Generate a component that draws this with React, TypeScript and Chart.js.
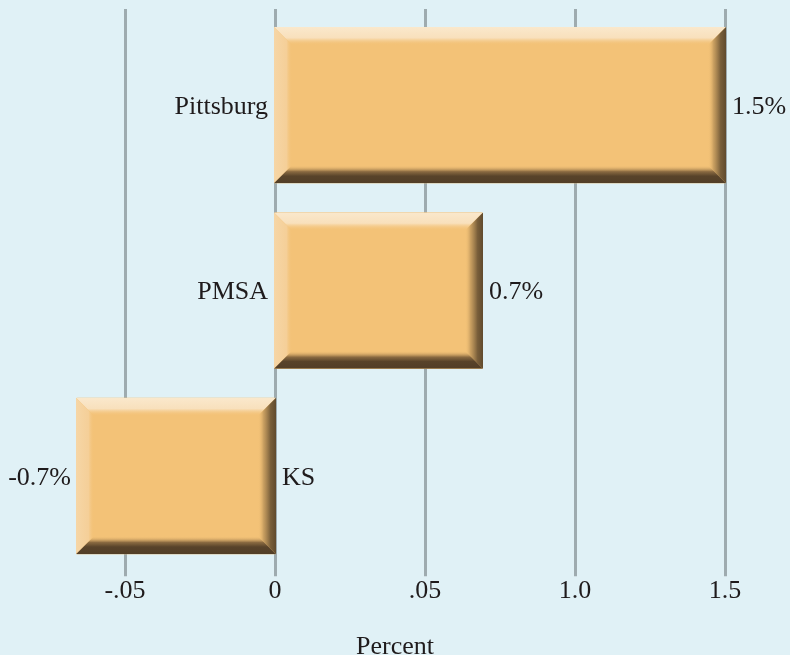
import { useEffect, useRef } from 'react';
import { Chart, registerables } from 'chart.js';

Chart.register(...registerables);

const categories = ['Pittsburg', 'PMSA', 'KS'];
const values = [1.5, 0.69, -0.66];
const valueLabels = ['1.5%', '0.7%', '-0.7%'];
const tickValues = [-0.5, 0, 0.5, 1.0, 1.5];
const tickLabels = ['-.05', '0', '.05', '1.0', '1.5'];
const axisTitle = 'Percent';

const FONT = "'Liberation Serif', 'Times New Roman', serif";
const TEXT = '#1f1b1c';
const BG = '#e0f1f6';
const BAR = '#f3c277';

const gridPlugin = {
  id: 'customGrid',
  beforeDatasetsDraw(chart: any) {
    const { ctx, chartArea, scales } = chart;
    ctx.save();
    ctx.strokeStyle = '#9eabaf';
    ctx.lineWidth = 3;
    tickValues.forEach((v) => {
      const x = Math.round(scales.x.getPixelForValue(v)) + 0.5;
      ctx.beginPath();
      ctx.moveTo(x, chartArea.top - 3.5);
      ctx.lineTo(x, chartArea.bottom + 7.5);
      ctx.stroke();
    });
    ctx.restore();
  },
};

function poly(ctx: CanvasRenderingContext2D, pts: number[][], fill: any) {
  ctx.beginPath();
  ctx.moveTo(pts[0][0], pts[0][1]);
  for (let i = 1; i < pts.length; i++) ctx.lineTo(pts[i][0], pts[i][1]);
  ctx.closePath();
  ctx.fillStyle = fill;
  ctx.fill();
}

const bevelPlugin = {
  id: 'bevel',
  afterDatasetsDraw(chart: any) {
    const { ctx } = chart;
    const meta = chart.getDatasetMeta(0);
    ctx.save();
    meta.data.forEach((el: any) => {
      const p = el.getProps(['x', 'y', 'base', 'height'], true);
      const L = Math.min(p.x, p.base) - 1;
      const R = Math.max(p.x, p.base) + 1;
      const T = p.y - p.height / 2;
      const B = p.y + p.height / 2;
      const bx = 18;
      const by = 18;
      ctx.save();
      ctx.beginPath();
      ctx.rect(L, T, R - L, B - T);
      ctx.clip();
      ctx.fillStyle = BAR;
      ctx.fillRect(L, T, R - L, B - T);
      // top highlight
      let g = ctx.createLinearGradient(0, T, 0, T + by);
      g.addColorStop(0, 'rgba(250,232,204,1)');
      g.addColorStop(0.6, 'rgba(248,224,188,1)');
      g.addColorStop(1, 'rgba(243,194,119,0)');
      poly(ctx, [[L, T], [R, T], [R - bx, T + by], [L + bx, T + by]], g);
      // left highlight
      g = ctx.createLinearGradient(L, 0, L + bx, 0);
      g.addColorStop(0, 'rgba(246,214,166,1)');
      g.addColorStop(0.7, 'rgba(245,207,152,1)');
      g.addColorStop(1, 'rgba(243,194,119,0)');
      poly(ctx, [[L, T], [L + bx, T + by], [L + bx, B - by], [L, B]], g);
      // right shadow
      g = ctx.createLinearGradient(R, 0, R - bx, 0);
      g.addColorStop(0, 'rgba(96,74,45,1)');
      g.addColorStop(0.3, 'rgba(120,94,58,1)');
      g.addColorStop(0.7, 'rgba(196,155,94,0.85)');
      g.addColorStop(1, 'rgba(243,194,119,0)');
      poly(ctx, [[R, T], [R, B], [R - bx, B - by], [R - bx, T + by]], g);
      // bottom shadow
      g = ctx.createLinearGradient(0, B, 0, B - by);
      g.addColorStop(0, 'rgba(82,62,39,1)');
      g.addColorStop(0.4, 'rgba(88,67,42,1)');
      g.addColorStop(0.65, 'rgba(138,106,65,1)');
      g.addColorStop(1, 'rgba(243,194,119,0)');
      poly(ctx, [[L, B], [R, B], [R - bx, B - by], [L + bx, B - by]], g);
      ctx.restore();
    });
    ctx.restore();
  },
};

const labelPlugin = {
  id: 'barLabels',
  afterDatasetsDraw(chart: any) {
    const { ctx } = chart;
    const meta = chart.getDatasetMeta(0);
    ctx.save();
    ctx.font = `26px ${FONT}`;
    ctx.fillStyle = TEXT;
    ctx.textBaseline = 'alphabetic';
    meta.data.forEach((el: any, i: number) => {
      const p = el.getProps(['x', 'y', 'base'], true);
      const yb = p.y + 8.8;
      const positive = values[i] >= 0;
      const L = Math.min(p.x, p.base);
      const R = Math.max(p.x, p.base);
      if (positive) {
        ctx.textAlign = 'left';
        ctx.fillText(valueLabels[i], R + 7, yb);
        ctx.textAlign = 'right';
        ctx.fillText(categories[i], L - 7, yb);
      } else {
        ctx.textAlign = 'right';
        ctx.fillText(valueLabels[i], L - 6, yb);
        ctx.textAlign = 'left';
        ctx.fillText(categories[i], R + 7, yb);
      }
    });
    ctx.restore();
  },
};

export default function App() {
  const ref = useRef<HTMLCanvasElement | null>(null);
  useEffect(() => {
    if (!ref.current) return;
    const chart = new Chart(ref.current, {
      type: 'bar',
      data: {
        labels: categories,
        datasets: [
          {
            data: values,
            backgroundColor: BAR,
            borderWidth: 0,
            barPercentage: 0.843,
            categoryPercentage: 1,
          },
        ],
      },
      options: {
        indexAxis: 'y',
        animation: false,
        responsive: true,
        maintainAspectRatio: false,
        layout: { padding: { top: 12.5, bottom: 0, left: 0, right: 0 } },
        plugins: {
          legend: { display: false },
          tooltip: { enabled: false },
        },
        scales: {
          x: {
            type: 'linear',
            min: -275 / 300,
            max: 515 / 300,
            afterBuildTicks: (axis: any) => {
              axis.ticks = tickValues.map((v) => ({ value: v }));
            },
            grid: { display: false, drawTicks: false },
            border: { display: false },
            ticks: {
              padding: 7,
              color: TEXT,
              font: { family: FONT, size: 26, lineHeight: 1.2 },
              maxRotation: 0,
              autoSkip: false,
              callback: (v: any) => {
                const idx = tickValues.indexOf(Number(v));
                return idx >= 0 ? tickLabels[idx] : '';
              },
            },
            title: {
              display: true,
              text: axisTitle,
              color: TEXT,
              font: { family: FONT, size: 26, lineHeight: 0.6 },
              padding: { top: 25.5, bottom: 0 },
            },
          },
          y: {
            display: false,
          },
        },
      },
      plugins: [gridPlugin, bevelPlugin, labelPlugin],
    });
    return () => chart.destroy();
  }, []);

  return (
    <div
      style={{
        position: 'absolute',
        left: 0,
        top: 0,
        width: 790,
        height: 655,
        background: BG,
      }}
    >
      <canvas ref={ref} />
    </div>
  );
}
